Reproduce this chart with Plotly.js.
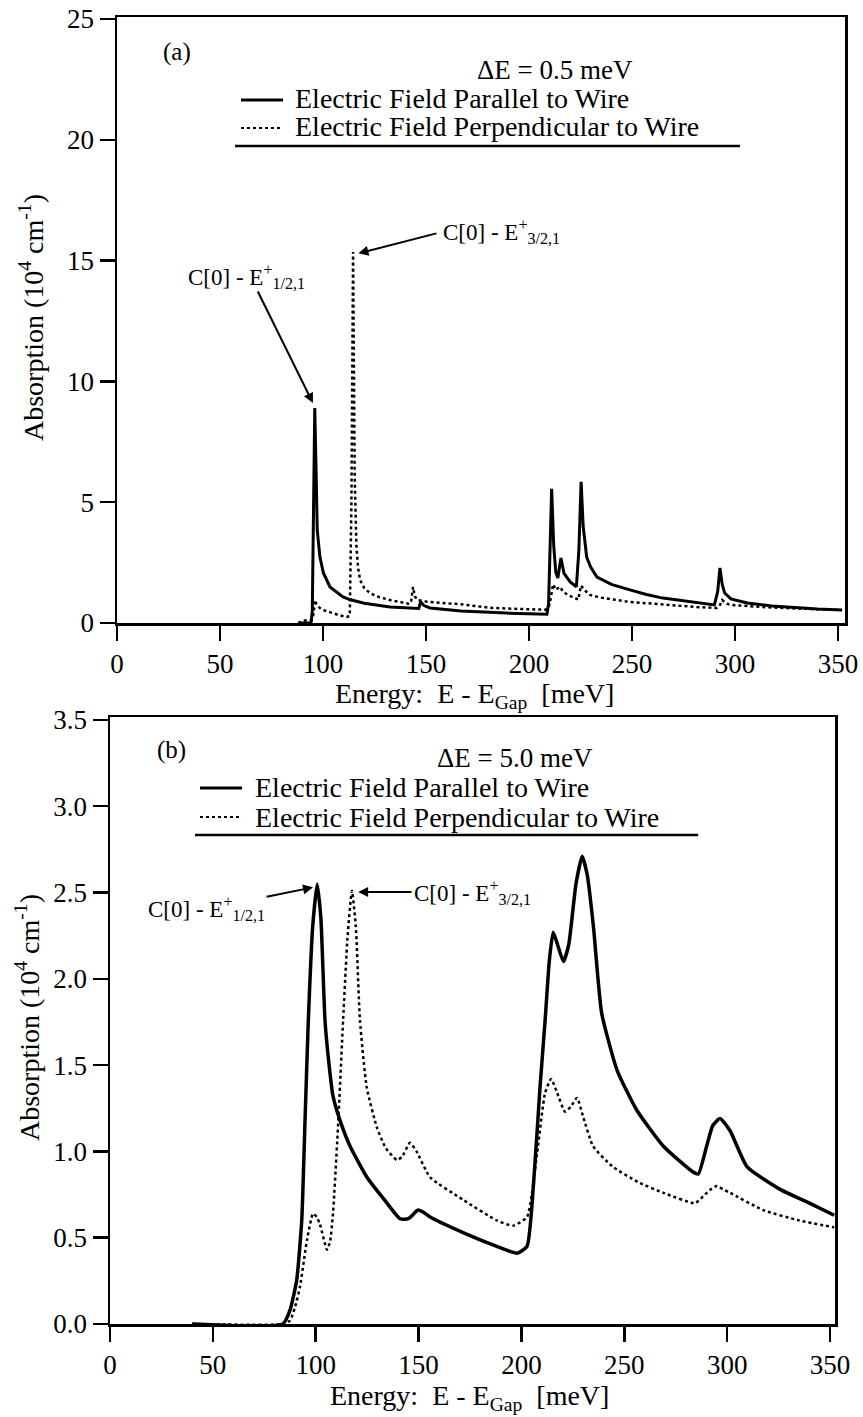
<!DOCTYPE html>
<html>
<head>
<meta charset="utf-8">
<script src="https://cdn.plot.ly/plotly-3.0.1.min.js"></script>
<style>html,body{margin:0;padding:0;background:#fff;}</style>
</head>
<body>
<div id="chart" style="width:863px;height:1417px;"></div>
<script>
// ---------- Panel (a): ΔE = 0.5 meV ----------
var aParX = [88, 94.2, 94.8, 95.4, 96.0, 96.6, 97.2, 98.5, 100.2, 103.4, 109.7, 113, 120, 132.5, 145.6, 146.5, 147.4, 149, 152, 157, 167, 189, 208.7, 209.5, 210.3, 211, 212, 213, 214, 215.5, 217, 220, 223, 224.2, 225.3, 226.3, 228, 230, 233, 240, 249, 257, 265, 278, 290, 291.6, 292.7, 293.8, 295, 298, 306, 318, 330, 340, 352];
var aParY = [0, 0, 0.5, 4.5, 8.9, 6.5, 3.85, 2.73, 2.07, 1.49, 1.08, 0.97, 0.82, 0.66, 0.58, 0.6, 0.88, 0.72, 0.62, 0.58, 0.5, 0.41, 0.36, 0.8, 3.0, 5.55, 3.2, 2.1, 1.86, 2.69, 2.05, 1.7, 1.5, 3.0, 5.84, 4.0, 2.73, 2.3, 1.9, 1.6, 1.37, 1.18, 1.03, 0.88, 0.75, 1.3, 2.28, 1.6, 1.24, 1.0, 0.83, 0.7, 0.62, 0.58, 0.54];

var aPerpX = [88, 90, 91, 93, 94.5, 95.5, 96, 97, 98.5, 100, 104, 108, 111.6, 113, 113.8, 114.6, 115.4, 116.2, 117, 118, 120, 122.8, 127, 132.5, 138, 142, 142.8, 143.7, 144.6, 146, 150, 152, 157, 166.5, 181, 195, 208, 209.5, 210.5, 211.7, 213, 215, 216.5, 219, 222, 224, 224.6, 225.3, 226.5, 229.6, 235, 240, 249, 260, 270, 281.5, 291, 292.5, 293.8, 295.5, 297.6, 305, 313.6, 330, 351];
var aPerpY = [0, 0.05, 0.1, 0.1, 0.12, 0.4, 0.95, 0.75, 0.62, 0.54, 0.42, 0.32, 0.25, 0.3, 5, 15.35, 6, 3.2, 2.3, 1.78, 1.45, 1.24, 1.08, 0.95, 0.86, 0.79, 0.9, 1.49, 1.1, 0.95, 0.89, 0.87, 0.83, 0.78, 0.63, 0.58, 0.55, 0.62, 1.0, 1.6, 1.37, 1.5, 1.3, 1.15, 1.05, 0.97, 1.3, 1.55, 1.4, 1.16, 1.05, 0.98, 0.87, 0.8, 0.73, 0.66, 0.62, 0.7, 0.95, 0.82, 0.75, 0.7, 0.66, 0.6, 0.54];

// ---------- Panel (b): ΔE = 5.0 meV ----------
var bParX = [40, 84, 87.5, 90.7, 93.2, 94.8, 96.4, 98.5, 100.7, 102.5, 104.5, 106.5, 108.4, 111.8, 116.7, 124.9, 134, 141, 145, 149.7, 152, 155.6, 171.6, 188, 197.9, 202.7, 205.8, 209, 211.5, 213.5, 215.4, 217.5, 220.4, 223, 226.5, 229.5, 232, 235, 239, 246.5, 256, 269, 283.5, 286, 290, 293, 296.5, 301.4, 309.7, 325.7, 340, 352];
var bParY = [0, 0, 0.08, 0.25, 0.6, 1.18, 1.76, 2.3, 2.55, 2.35, 1.76, 1.5, 1.32, 1.18, 1.03, 0.85, 0.71, 0.61, 0.61, 0.66, 0.65, 0.62, 0.53, 0.45, 0.41, 0.45, 0.8, 1.37, 1.76, 2.1, 2.27, 2.2, 2.1, 2.2, 2.55, 2.71, 2.6, 2.3, 1.8, 1.47, 1.24, 1.03, 0.88, 0.87, 1.03, 1.15, 1.19, 1.12, 0.91, 0.78, 0.7, 0.63];

var bPerpX = [40, 84, 87.5, 90, 92.4, 95.8, 98.7, 100.5, 102, 105.5, 107, 108.4, 111, 113.3, 115.5, 117.6, 119.5, 121.5, 124.8, 129.7, 134, 139.5, 142, 145.8, 149, 155.6, 171.6, 188, 196, 202.7, 207.6, 211.5, 214.4, 217, 221.2, 224, 227, 230, 234.8, 244.5, 257, 269, 284.4, 288.3, 292, 295, 298, 301.4, 317.5, 335, 352];
var bPerpY = [0, 0, 0.02, 0.1, 0.22, 0.49, 0.64, 0.62, 0.58, 0.43, 0.48, 0.64, 1.18, 1.76, 2.25, 2.51, 2.3, 1.76, 1.37, 1.14, 1.02, 0.95, 0.97, 1.05, 1.0, 0.85, 0.72, 0.6, 0.57, 0.62, 0.99, 1.34, 1.42, 1.35, 1.23, 1.26, 1.31, 1.2, 1.03, 0.91, 0.82, 0.76, 0.7, 0.74, 0.78, 0.8, 0.78, 0.76, 0.66, 0.6, 0.56];

var xTicks = [0, 50, 100, 150, 200, 250, 300, 350];
var aYTicks = [0, 5, 10, 15, 20, 25];
var bYTicks = [0, 0.5, 1.0, 1.5, 2.0, 2.5, 3.0, 3.5];

var seriesNames = ["Electric Field Parallel to Wire", "Electric Field Perpendicular to Wire"];
var deltaA = "\u0394E = 0.5 meV";
var deltaB = "\u0394E = 5.0 meV";
var peak1 = "C[0] - E<sup>+</sup><sub>1/2,1</sub>";
var peak2 = "C[0] - E<sup>+</sup><sub>3/2,1</sub>";
var xTitle = "Energy:\u00A0 E - E<sub>Gap</sub>\u00A0 [meV]";
var yTitle = "Absorption (10<sup>4</sup> cm<sup>-1</sup>)";

var W = 863, H = 1417;
var FONT = "Liberation Serif, Times New Roman, serif";
function px(x){ return x / W; }
function py(y){ return 1 - y / H; }

var traces = [
  {x: aParX, y: aParY, xaxis: 'x', yaxis: 'y', mode: 'lines', name: seriesNames[0], showlegend: false,
   line: {color: '#000', width: 3}},
  {x: aPerpX, y: aPerpY, xaxis: 'x', yaxis: 'y', mode: 'lines', name: seriesNames[1], showlegend: false,
   line: {color: '#000', width: 2.5, dash: 'dot'}},
  {x: bParX, y: bParY, xaxis: 'x2', yaxis: 'y2', mode: 'lines', name: seriesNames[0], showlegend: false,
   line: {color: '#000', width: 3.5, shape: 'spline', smoothing: 0.5}},
  {x: bPerpX, y: bPerpY, xaxis: 'x2', yaxis: 'y2', mode: 'lines', name: seriesNames[1], showlegend: false,
   line: {color: '#000', width: 2.5, dash: 'dot', shape: 'spline', smoothing: 0.5}}
];

var axisCommon = {
  showgrid: false, zeroline: false, showline: true, linecolor: '#000', linewidth: 2.5,
  mirror: true, ticks: 'outside', ticklen: 15, tickwidth: 2.5, tickcolor: '#000',
  tickfont: {family: FONT, size: 27, color: '#000'}
};

function ax(o){ var r = {}; for (var k in axisCommon) r[k] = axisCommon[k]; for (var k2 in o) r[k2] = o[k2]; return r; }

var layout = {
  width: W, height: H,
  margin: {l: 0, r: 0, t: 0, b: 0},
  paper_bgcolor: '#fff', plot_bgcolor: '#fff',
  showlegend: false,
  font: {family: FONT, color: '#000'},
  xaxis: ax({domain: [px(117), px(845)], range: [0, 353.4], tickvals: xTicks, anchor: 'y'}),
  yaxis: ax({domain: [py(623), py(17)], range: [0, 25.08], tickvals: aYTicks, anchor: 'x'}),
  xaxis2: ax({domain: [px(110), px(835)], range: [0, 352.4], tickvals: xTicks, anchor: 'y2'}),
  yaxis2: ax({domain: [py(1324), py(717)], range: [0, 3.517], tickvals: bYTicks, tickformat: '.1f', anchor: 'x2'}),
  shapes: [
    // legend samples (a)
    {type: 'line', xref: 'x', yref: 'y', x0: 60.2, x1: 80.6, y0: 21.65, y1: 21.65, line: {color: '#000', width: 3}},
    {type: 'line', xref: 'x', yref: 'y', x0: 60.2, x1: 80.6, y0: 20.49, y1: 20.49, line: {color: '#000', width: 2, dash: 'dot'}},
    {type: 'line', xref: 'x', yref: 'y', x0: 57.3, x1: 302.4, y0: 19.74, y1: 19.74, line: {color: '#000', width: 2.5}},
    // legend samples (b)
    {type: 'line', xref: 'x2', yref: 'y2', x0: 43.75, x1: 64.2, y0: 3.105, y1: 3.105, line: {color: '#000', width: 3}},
    {type: 'line', xref: 'x2', yref: 'y2', x0: 43.75, x1: 64.2, y0: 2.937, y1: 2.937, line: {color: '#000', width: 2, dash: 'dot'}},
    {type: 'line', xref: 'x2', yref: 'y2', x0: 41.3, x1: 285.9, y0: 2.833, y1: 2.833, line: {color: '#000', width: 2.5}}
  ],
  annotations: [
    // axis titles
    {xref: 'paper', yref: 'paper', x: px(475), y: py(695), text: xTitle, showarrow: false, xanchor: 'center', yanchor: 'middle', font: {size: 28}},
    {xref: 'paper', yref: 'paper', x: px(469), y: py(1397), text: xTitle, showarrow: false, xanchor: 'center', yanchor: 'middle', font: {size: 28}},
    {xref: 'paper', yref: 'paper', x: px(31), y: py(318), text: yTitle, textangle: -90, showarrow: false, xanchor: 'center', yanchor: 'middle', font: {size: 28}},
    {xref: 'paper', yref: 'paper', x: px(27), y: py(1018), text: yTitle, textangle: -90, showarrow: false, xanchor: 'center', yanchor: 'middle', font: {size: 28}},
    // panel labels
    {xref: 'x', yref: 'y', x: 29.1, y: 23.63, text: '(a)', showarrow: false, font: {size: 25}},
    {xref: 'x2', yref: 'y2', x: 29.7, y: 3.326, text: '(b)', showarrow: false, font: {size: 25}},
    // delta E headers
    {xref: 'x', yref: 'y', x: 212.6, y: 22.89, text: deltaA, showarrow: false, font: {size: 27}},
    {xref: 'x2', yref: 'y2', x: 196.9, y: 3.279, text: deltaB, showarrow: false, font: {size: 27}},
    // legend texts (a)
    {xref: 'x', yref: 'y', x: 85.4, y: 21.69, text: seriesNames[0], showarrow: false, xanchor: 'left', yanchor: 'middle', font: {size: 28}},
    {xref: 'x', yref: 'y', x: 85.4, y: 20.53, text: seriesNames[1], showarrow: false, xanchor: 'left', yanchor: 'middle', font: {size: 28}},
    // legend texts (b)
    {xref: 'x2', yref: 'y2', x: 69.5, y: 3.111, text: seriesNames[0], showarrow: false, xanchor: 'left', yanchor: 'middle', font: {size: 28}},
    {xref: 'x2', yref: 'y2', x: 69.5, y: 2.937, text: seriesNames[1], showarrow: false, xanchor: 'left', yanchor: 'middle', font: {size: 28}},
    // peak labels (a)
    {xref: 'x', yref: 'y', x: 63.1, y: 14.32, text: peak1, showarrow: false, font: {size: 23}},
    {xref: 'x', yref: 'y', x: 95.1, y: 9.1, ax: 68, ay: 13.78, axref: 'x', ayref: 'y', text: '', showarrow: true, arrowhead: 2, arrowsize: 1, arrowwidth: 2, arrowcolor: '#000'},
    {xref: 'x', yref: 'y', x: 186.5, y: 16.2, text: peak2, showarrow: false, font: {size: 23}},
    {xref: 'x', yref: 'y', x: 117.2, y: 15.3, ax: 155.8, ay: 16.14, axref: 'x', ayref: 'y', text: '', showarrow: true, arrowhead: 2, arrowsize: 1, arrowwidth: 2, arrowcolor: '#000'},
    // peak labels (b)
    {xref: 'x2', yref: 'y2', x: 46.7, y: 2.41, text: peak1, showarrow: false, font: {size: 23}},
    {xref: 'x2', yref: 'y2', x: 98.7, y: 2.53, ax: 75.4, ay: 2.474, axref: 'x2', ayref: 'y2', text: '', showarrow: true, arrowhead: 2, arrowsize: 1, arrowwidth: 2, arrowcolor: '#000'},
    {xref: 'x2', yref: 'y2', x: 176, y: 2.503, text: peak2, showarrow: false, font: {size: 23}},
    {xref: 'x2', yref: 'y2', x: 120.6, y: 2.503, ax: 147.3, ay: 2.503, axref: 'x2', ayref: 'y2', text: '', showarrow: true, arrowhead: 2, arrowsize: 1, arrowwidth: 2, arrowcolor: '#000'}
  ]
};

Plotly.newPlot('chart', traces, layout, {staticPlot: true, displayModeBar: false});
</script>
</body>
</html>
